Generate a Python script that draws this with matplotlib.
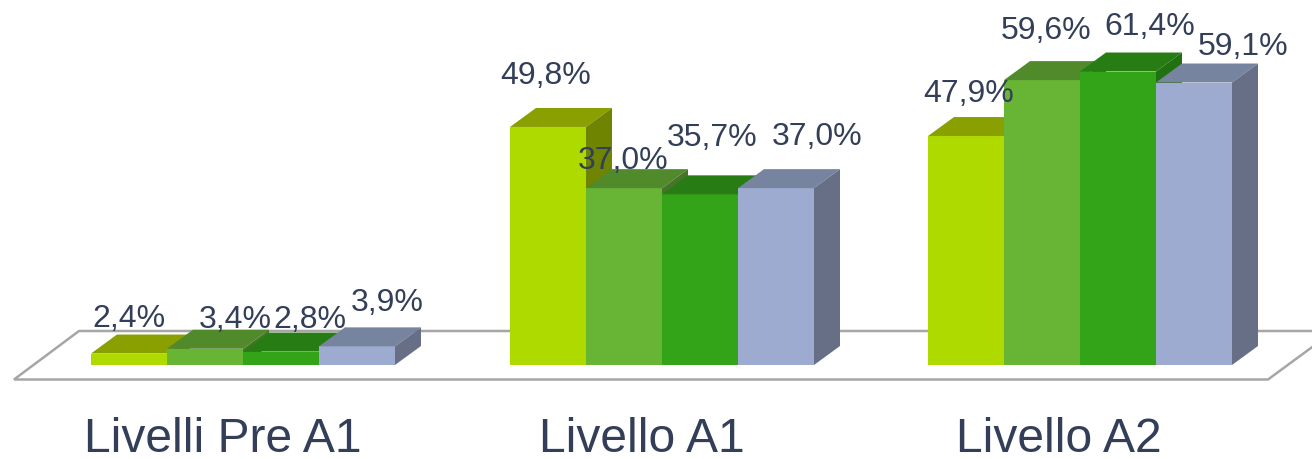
#!/usr/bin/env python3
"""3D-looking grouped bars for the language levels."""

import matplotlib

matplotlib.use("Agg")
import matplotlib.pyplot as plt
from matplotlib.patches import Polygon

plt.rcParams["font.family"] = ["Liberation Sans", "DejaVu Sans"]

# data
levels = ["Livelli Pre A1", "Livello A1", "Livello A2"]
series_1 = [2.4, 49.8, 47.9]
series_2 = [3.4, 37.0, 59.6]
series_3 = [2.8, 35.7, 61.4]
series_4 = [3.9, 37.0, 59.1]

# face colours per series: front, top, side
front_colors = ["#AFDA00", "#68B536", "#33A318", "#9DABD1"]
top_colors = ["#8AA000", "#518A2B", "#277D13", "#77849F"]
side_colors = ["#6F8400", "#46752A", "#217012", "#666F85"]
TEXT_COLOR = "#333F58"

# layout, pixels on the 1312x459 canvas
W, H = 1312, 459
BASE_Y = 365
PX_PER_PCT = 4.78
BAR_PX = 76
GROUP_X = [91, 510, 928]
DEPTH_X, DEPTH_Y = 26, 19
# hand placed label offsets from the centre of each bar's top edge
label_offsets = [
    [(0, 34.5), (30, 29), (29, 32), (30, 43)],
    [(-2, 51), (-1, 27), (12, 56), (41, 51)],
    [(3, 42), (4, 49), (32, 44.5), (49, 35.5)],
]
CATEGORY_X = [223, 642, 1059]
CATEGORY_BASELINE = 452


def py(pixel):
    return (BASE_Y - pixel) / PX_PER_PCT


def main():
    fig = plt.figure(figsize=(W / 100, H / 100), dpi=100)
    ax = fig.add_axes([0, 0, 1, 1])
    ax.set_xlim(0, W)
    ax.set_ylim(py(H), py(0))
    ax.axis("off")

    floor = [(14, py(379.5)), (79, py(331)), (1334, py(331)), (1268, py(379.5))]
    ax.add_patch(Polygon(floor, closed=True, facecolor="white", edgecolor="#A6A6A6",
                         linewidth=1.8, zorder=1))

    depth_y = DEPTH_Y / PX_PER_PCT
    all_series = [series_1, series_2, series_3, series_4]
    zorder = 2
    for g, group_x in enumerate(GROUP_X):
        for s, values in enumerate(all_series):
            value = values[g]
            left = group_x + s * BAR_PX
            right = left + BAR_PX
            ax.bar(left, value, width=BAR_PX, align="edge", color=front_colors[s],
                   linewidth=0, zorder=zorder)
            top = [(left, value), (left + DEPTH_X, value + depth_y),
                   (right + DEPTH_X, value + depth_y), (right, value)]
            side = [(right, 0), (right + DEPTH_X, depth_y),
                    (right + DEPTH_X, value + depth_y), (right, value)]
            ax.add_patch(Polygon(top, closed=True, facecolor=top_colors[s],
                                 linewidth=0, zorder=zorder))
            ax.add_patch(Polygon(side, closed=True, facecolor=side_colors[s],
                                 linewidth=0, zorder=zorder))
            zorder += 1

            label = f"{value:.1f}%".replace(".", ",")
            ax.annotate(label, (left + BAR_PX / 2, value),
                        xytext=label_offsets[g][s], textcoords="offset pixels",
                        ha="center", va="center", fontsize=23, color=TEXT_COLOR,
                        zorder=50)

    for name, x in zip(levels, CATEGORY_X):
        ax.text(x, py(CATEGORY_BASELINE), name, ha="center", va="baseline",
                fontsize=34.6, color=TEXT_COLOR, zorder=50)

    fig.savefig("out.png", dpi=100, facecolor="white")
    plt.close(fig)


if __name__ == "__main__":
    main()
